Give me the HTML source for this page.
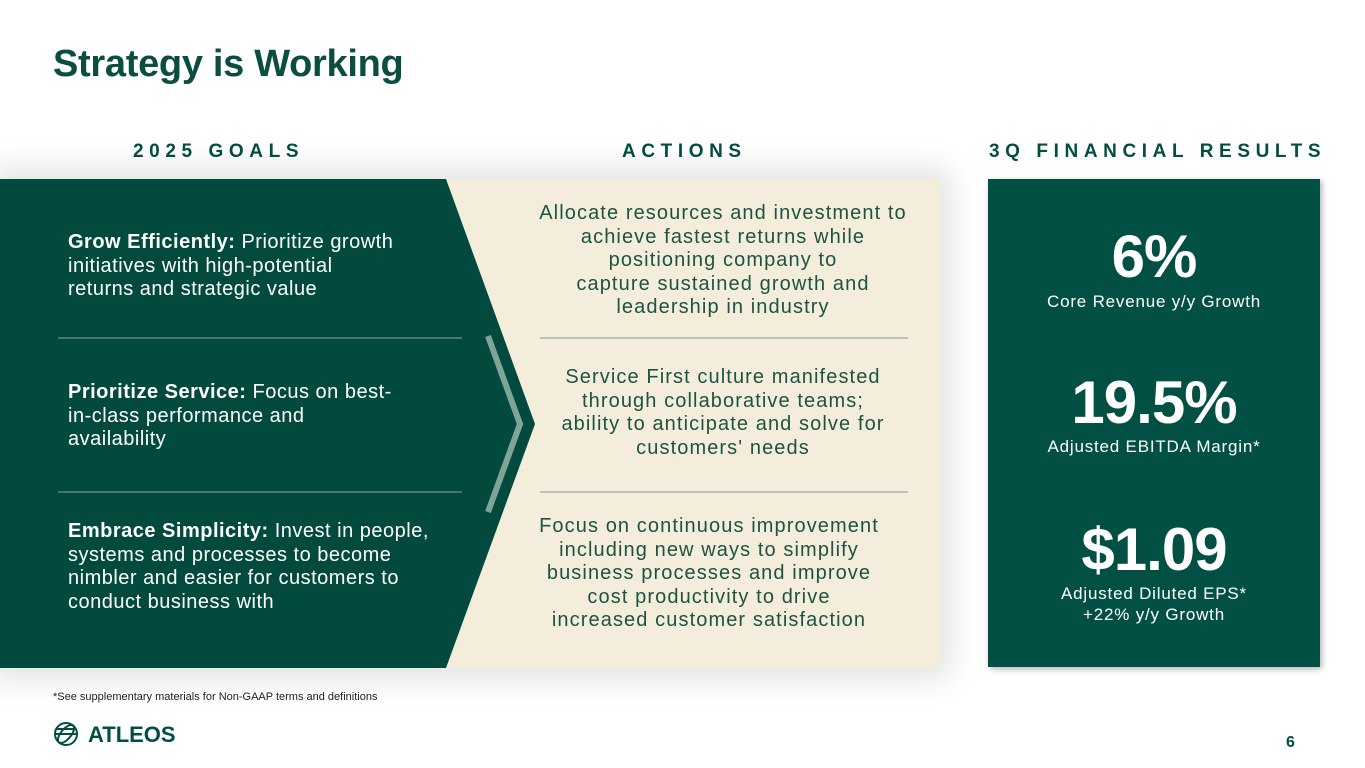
<!DOCTYPE html>
<html><head><meta charset="utf-8"><style>
*{margin:0;padding:0;box-sizing:border-box}
body{width:1365px;height:768px;background:#fff;position:relative;overflow:hidden;font-family:"Liberation Sans",sans-serif;color:#024f42}
.a{position:absolute}
.hd{font-weight:bold;font-size:19px;letter-spacing:5.6px;color:#024f42;top:141px;white-space:nowrap}
.lt{color:#fff;font-size:20px;line-height:23.5px;left:68px;width:430px;letter-spacing:0.5px;white-space:nowrap}
.ct{color:#1c5442;font-size:20px;line-height:23.5px;text-align:center;left:503px;width:440px;letter-spacing:1.1px;white-space:nowrap}
.big{color:#fff;font-weight:bold;text-align:center;width:332px;left:988px;font-size:60px;letter-spacing:-1px}
.sm{color:#fff;text-align:center;width:332px;left:988px;font-size:17px;line-height:21px;letter-spacing:0.8px}
</style></head><body>
<div class="a" style="left:53px;top:43px;font-size:38px;font-weight:bold;color:#0b4d3f;letter-spacing:-0.3px">Strategy is Working</div>
<div class="a hd" style="left:133px">2025 GOALS</div>
<div class="a hd" style="left:622px">ACTIONS</div>
<div class="a hd" style="left:989px">3Q FINANCIAL RESULTS</div>
<div class="a" style="left:0;top:179px;width:940px;height:489px;background:#f4eddc;box-shadow:0 0 30px 10px rgba(0,0,0,0.12)"></div>
<svg class="a" style="left:0;top:0" width="1365" height="768">
<polygon points="0,179 446,179 535,424 446,668 0,668" fill="#024a3e"/>
<polyline points="488,336 520,424 488,512" fill="none" stroke="#7fa597" stroke-width="6"/>
<line x1="58" y1="338" x2="462" y2="338" stroke="#6e9488" stroke-width="1.2"/>
<line x1="58" y1="492" x2="462" y2="492" stroke="#6e9488" stroke-width="1.2"/>
<line x1="540" y1="338" x2="908" y2="338" stroke="#9aa89f" stroke-width="1.2"/>
<line x1="540" y1="492" x2="908" y2="492" stroke="#9aa89f" stroke-width="1.2"/>
<g transform="translate(66,734)" fill="none" stroke="#024f42" stroke-width="2">
<circle r="11"/><ellipse rx="5" ry="11" transform="rotate(40)"/><line x1="-11" y1="0" x2="11" y2="0"/><line x1="-9" y1="-5" x2="9" y2="-5"/></g>
</svg>
<div class="a lt" style="top:231px"><b>Grow Efficiently:</b> Prioritize growth<br>initiatives with high-potential<br>returns and strategic value</div>
<div class="a lt" style="top:381px"><b>Prioritize Service:</b> Focus on best-<br>in-class performance and<br>availability</div>
<div class="a lt" style="top:520px"><b>Embrace Simplicity:</b> Invest in people,<br>systems and processes to become<br>nimbler and easier for customers to<br>conduct business with</div>
<div class="a ct" style="top:202px">Allocate resources and investment to<br>achieve fastest returns while<br>positioning company to<br>capture sustained growth and<br>leadership in industry</div>
<div class="a ct" style="top:366px">Service First culture manifested<br>through collaborative teams;<br>ability to anticipate and solve for<br>customers' needs</div>
<div class="a ct" style="top:515px;left:489px">Focus on continuous improvement<br>including new ways to simplify<br>business processes and improve<br>cost productivity to drive<br>increased customer satisfaction</div>
<div class="a" style="left:988px;top:179px;width:332px;height:488px;background:#025043;box-shadow:2px 2px 6px rgba(0,0,0,0.3)"></div>
<div class="a big" style="top:222px">6%</div>
<div class="a sm" style="top:291px">Core Revenue y/y Growth</div>
<div class="a big" style="top:368px">19.5%</div>
<div class="a sm" style="top:436px">Adjusted EBITDA Margin*</div>
<div class="a big" style="top:515px">$1.09</div>
<div class="a sm" style="top:583px">Adjusted Diluted EPS*<br>+22% y/y Growth</div>
<div class="a" style="left:53px;top:691px;font-size:11px;color:#222">*See supplementary materials for Non-GAAP terms and definitions</div>
<div class="a" style="left:88px;top:722px;font-size:22px;font-weight:bold;color:#024f42">ATLEOS</div>
<div class="a" style="left:1286px;top:734px;font-size:16px;font-weight:bold;color:#024f42">6</div>
</body></html>
